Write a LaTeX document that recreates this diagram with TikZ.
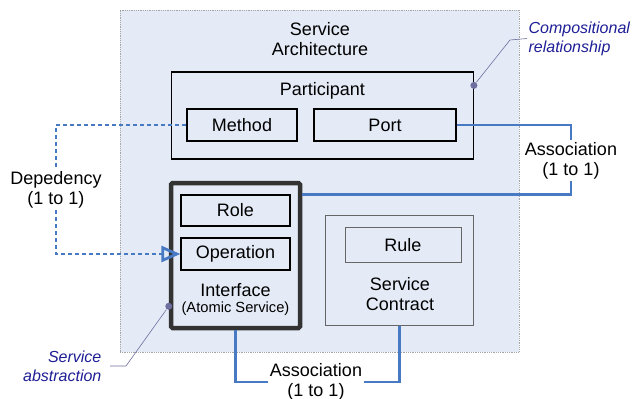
\documentclass[tikz,border=0pt]{standalone}
\usepackage{fontspec}
\setmainfont{Liberation Sans}
\usetikzlibrary{arrows.meta}
\definecolor{archfill}{RGB}{228,235,246}
\definecolor{linkblue}{RGB}{72,122,196}
\definecolor{notenavy}{RGB}{30,30,150}
\definecolor{leadgray}{RGB}{110,110,160}

\begin{document}
\begin{tikzpicture}[x = 1pt, y = -1pt, line width = 1.2pt,
  every node/.style = {font = \fontsize{18}{20}\selectfont},
  box/.style = {rectangle, draw, inner sep = 0pt},
  softbox/.style = {box, draw = gray!80!black, line width = 1pt},
  link/.style = {draw = linkblue, line width = 2.7pt},
  deplink/.style = {link, dash pattern = on 4pt off 3pt},
  note/.style = {text = notenavy, font = \fontsize{16}{19}\selectfont\itshape},
  lead/.style = {draw = leadgray, line width = 0.6pt},
  leaddot/.style = {circle, fill = leadgray, inner sep = 0pt, minimum size = 7pt}]
\useasboundingbox (0,0) rectangle (633,399);
\draw (319.5,181) node[rectangle, fill = archfill, draw = gray!70, densely dotted, line width = 0.8pt, minimum width = 399pt, minimum height = 342pt](arch){}
    (320,39) node[align = center](archtxt){Service\\Architecture}
    (322.3,115.5) node[box, minimum width = 302pt, minimum height = 87pt](part){}
    (322.3,91) node(parttxt){Participant}
    (242,125) node[box, minimum width = 110pt, minimum height = 32pt](method){Method}
    (385,125) node[box, minimum width = 142pt, minimum height = 32pt](port){Port}
    (235.5,255.5) node[box, draw = black!80, line width = 4.5pt, rounded corners = 1.5pt, minimum width = 129pt, minimum height = 145pt](iface){}
    (235.5,210.5) node[box, minimum width = 109pt, minimum height = 31pt](role){Role}
    (235.5,254) node[box, minimum width = 109pt, minimum height = 32pt](oper){Operation}
    (235.5,290) node(ifacetxt){Interface}
    (235.5,309) node[font = \fontsize{14.7}{17}\selectfont](atomtxt){(Atomic Service)}
    (399.5,270) node[softbox, minimum width = 148pt, minimum height = 110pt](contract){}
    (403,245) node[softbox, minimum width = 116pt, minimum height = 35pt](rule){Rule}
    (400,294.5) node[align = center](contracttxt){Service\\Contract};
% labels of the links
\draw (571,160.5) node[align = center, inner sep = 2pt](assocport){Association\\(1 to 1)}
    (316,382) node[align = center, inner sep = 1.5pt](assocsvc){Association\\(1 to 1)}
    (56,189.5) node[align = center, inner sep = 2pt](depend){Depedency\\(1 to 1)}
    (527,38.5) node[note, anchor = west, align = left, inner xsep = 1pt](compnote){Compositional\\relationship}
    (110,366) node[note, anchor = east, align = right, inner xsep = 8pt](abstrnote){Service\\abstraction};
\coordinate (ifaceport) at ([yshift = -14pt]iface.north east);
\coordinate (compbend) at (510,40);
\coordinate (abstrbend) at (126,366);
% links
\draw [link] (port.east) -| (assocport.north);
\draw [link] (assocport.south) |- (ifaceport);
\draw [link] (iface.south) |- (assocsvc.west);
\draw [link] (assocsvc.east) -| (contract.south);
\draw [deplink] (method.west) -| (depend.north);
\draw [deplink, -{Triangle[open, length = 19pt, width = 16pt, line width = 2.8pt]}] (depend.south) |- (oper.west);
% notes
\draw ([yshift = -14pt]part.north east) node[leaddot](compdot){};
\draw ([yshift = 24pt]iface.south west) node[leaddot](abstrdot){};
\draw [lead] (compdot) -- (compbend) -- (compnote.west);
\draw [lead] (abstrdot) -- (abstrbend) -- (abstrnote.east);
\end{tikzpicture}
\end{document}
